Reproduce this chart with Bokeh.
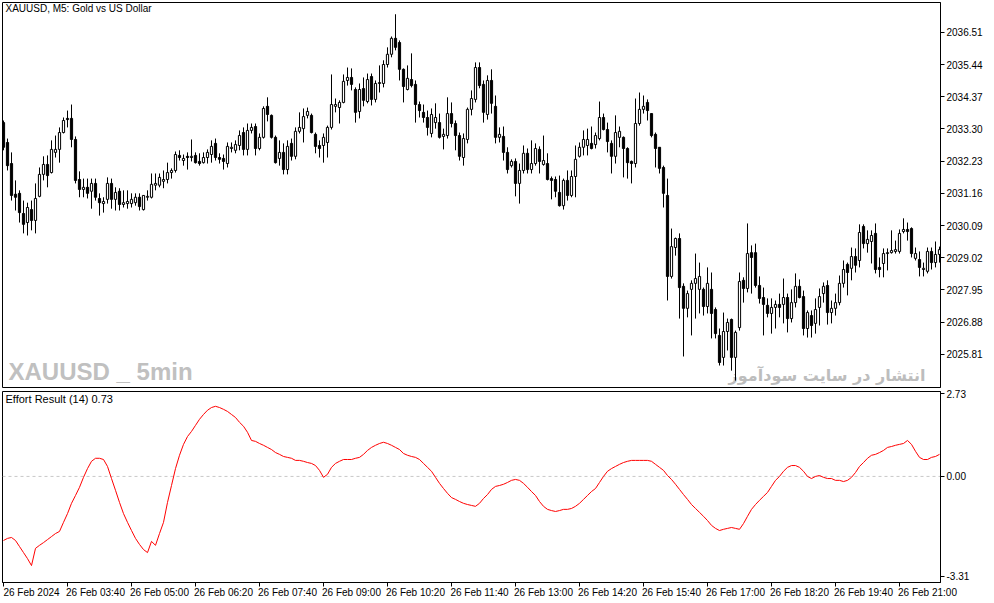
from bokeh.plotting import figure
from bokeh.layouts import column
from bokeh.models import Range1d, FixedTicker, PrintfTickFormatter, Span, ColumnDataSource, LinearAxis
from bokeh.core.properties import value
from bokeh.embed import file_html
from bokeh.resources import INLINE

opens = [
2033.51, 2032.85, 2032.15, 2031.13, 2031.16, 2030.49, 2030.19, 2030.62, 2030.26, 2031.06,
2031.79, 2032.12, 2031.85, 2032.52, 2032.62, 2033.18, 2033.65, 2033.65, 2032.95, 2031.62,
2031.29, 2031.36, 2031.23, 2031.49, 2030.99, 2030.82, 2030.96, 2031.49, 2030.96, 2031.23,
2030.79, 2030.82, 2030.82, 2030.85, 2031.03, 2030.62, 2031.03, 2031.03, 2031.43, 2031.43,
2031.56, 2031.62, 2031.85, 2031.92, 2032.42, 2032.25, 2032.39, 2032.35, 2032.42, 2032.22,
2032.18, 2032.35, 2032.45, 2032.82, 2032.35, 2032.32, 2032.15, 2032.65, 2032.59, 2032.75,
2033.18, 2032.62, 2033.25, 2033.38, 2032.65, 2033.02, 2034.05, 2033.75, 2033.02, 2032.32,
2032.52, 2031.95, 2032.82, 2032.39, 2033.22, 2033.31, 2033.75, 2033.75, 2033.12, 2032.75,
2032.75, 2032.85, 2033.35, 2034.05, 2034.01, 2034.18, 2034.91, 2035.01, 2034.61, 2033.88,
2034.64, 2034.21, 2035.04, 2034.28, 2034.81, 2034.81, 2035.44, 2035.78, 2036.31, 2036.17,
2035.28, 2034.61, 2034.94, 2034.78, 2034.11, 2033.85, 2033.68, 2033.15, 2033.51, 2033.51,
2033.05, 2033.08, 2033.81, 2033.48, 2033.08, 2032.35, 2032.95, 2033.95, 2034.28, 2035.34,
2034.78, 2033.78, 2034.91, 2034.05, 2033.02, 2033.05, 2032.52, 2032.08, 2032.22, 2031.49,
2031.92, 2032.49, 2031.95, 2032.15, 2032.62, 2032.12, 2032.15, 2031.65, 2031.62, 2031.19,
2030.75, 2031.59, 2031.09, 2031.72, 2032.39, 2032.69, 2032.75, 2032.82, 2032.78, 2032.98,
2033.68, 2033.28, 2032.82, 2032.39, 2033.02, 2033.02, 2032.65, 2032.22, 2032.15, 2033.48,
2033.95, 2034.18, 2033.81, 2033.12, 2032.69, 2032.02, 2031.09, 2028.40, 2029.36, 2029.66,
2028.07, 2027.34, 2027.97, 2028.17, 2027.97, 2027.97, 2027.40, 2027.97, 2027.30, 2026.44,
2025.71, 2026.57, 2026.97, 2025.71, 2026.70, 2028.27, 2028.00, 2029.19, 2029.19, 2028.10,
2027.70, 2027.44, 2027.17, 2027.37, 2027.47, 2027.47, 2027.70, 2027.00, 2027.53, 2028.07,
2027.73, 2026.67, 2027.10, 2026.84, 2027.37, 2027.83, 2028.10, 2027.20, 2027.34, 2027.53,
2028.17, 2028.80, 2028.67, 2029.06, 2028.93, 2030.06, 2029.49, 2029.56, 2029.83, 2028.70,
2028.83, 2029.16, 2029.19, 2029.23, 2029.23, 2029.89, 2029.96, 2029.99, 2029.00, 2028.96,
2028.63, 2028.57, 2029.23, 2028.86, 2029.13]

highs = [
2033.58, 2032.98, 2032.52, 2031.59, 2031.26, 2030.92, 2030.85, 2030.92, 2031.49, 2032.02,
2032.39, 2032.42, 2032.92, 2033.08, 2033.35, 2033.68, 2033.91, 2034.11, 2033.05, 2031.89,
2031.65, 2031.65, 2031.65, 2031.65, 2031.16, 2031.03, 2031.69, 2031.65, 2031.36, 2031.33,
2031.26, 2031.26, 2031.16, 2031.16, 2031.16, 2031.09, 2031.26, 2031.82, 2031.82, 2031.82,
2031.92, 2032.18, 2031.99, 2032.55, 2032.59, 2032.45, 2032.52, 2032.95, 2032.52, 2032.49,
2032.52, 2032.62, 2032.92, 2032.98, 2032.49, 2032.45, 2032.85, 2032.85, 2032.92, 2033.25,
2033.35, 2033.48, 2033.48, 2033.48, 2033.15, 2034.05, 2034.35, 2033.78, 2033.08, 2032.92,
2032.82, 2032.92, 2032.98, 2033.35, 2033.85, 2033.98, 2034.01, 2033.81, 2033.18, 2032.92,
2033.15, 2033.41, 2035.11, 2034.31, 2034.25, 2035.11, 2035.34, 2035.31, 2034.68, 2034.81,
2035.01, 2035.14, 2035.14, 2034.91, 2035.41, 2035.58, 2036.01, 2036.37, 2037.11, 2036.24,
2035.31, 2035.41, 2035.81, 2034.91, 2034.21, 2034.11, 2033.91, 2033.98, 2034.15, 2033.81,
2033.31, 2034.35, 2034.18, 2033.58, 2033.18, 2033.15, 2034.01, 2034.58, 2035.51, 2035.51,
2034.91, 2035.08, 2035.28, 2034.41, 2033.35, 2033.38, 2032.69, 2032.29, 2032.32, 2032.15,
2032.75, 2032.65, 2032.92, 2032.82, 2032.72, 2033.08, 2032.49, 2031.72, 2031.72, 2031.75,
2031.65, 2031.92, 2031.92, 2032.75, 2032.85, 2033.25, 2033.31, 2033.38, 2033.18, 2034.21,
2033.81, 2033.51, 2032.92, 2033.75, 2033.38, 2033.05, 2032.69, 2032.25, 2034.31, 2034.51,
2034.41, 2034.28, 2033.81, 2033.18, 2032.69, 2032.08, 2031.65, 2029.99, 2029.69, 2029.83,
2028.17, 2027.93, 2028.27, 2029.16, 2028.86, 2028.03, 2028.70, 2028.53, 2027.37, 2026.67,
2027.20, 2027.00, 2027.00, 2026.60, 2028.53, 2028.37, 2030.16, 2029.43, 2029.49, 2028.40,
2028.03, 2027.67, 2027.67, 2027.60, 2027.83, 2028.33, 2027.83, 2027.97, 2028.50, 2028.30,
2027.93, 2027.27, 2027.27, 2027.67, 2028.00, 2028.20, 2028.27, 2027.60, 2027.83, 2028.43,
2028.93, 2028.86, 2029.36, 2029.33, 2030.13, 2030.13, 2029.93, 2029.93, 2030.16, 2029.03,
2029.33, 2029.33, 2029.93, 2029.59, 2029.96, 2030.33, 2030.19, 2030.03, 2029.36, 2029.23,
2028.86, 2029.36, 2029.36, 2029.56, 2029.39]

lows = [
2032.59, 2031.92, 2030.92, 2030.59, 2030.19, 2029.83, 2029.76, 2029.93, 2029.83, 2031.03,
2031.59, 2031.36, 2031.82, 2032.35, 2032.18, 2033.15, 2033.35, 2032.69, 2031.49, 2031.03,
2031.03, 2030.99, 2030.65, 2030.92, 2030.42, 2030.52, 2030.82, 2030.65, 2030.59, 2030.59,
2030.69, 2030.65, 2030.69, 2030.75, 2030.59, 2030.59, 2030.92, 2030.99, 2031.26, 2031.36,
2031.33, 2031.49, 2031.65, 2031.85, 2032.25, 2032.08, 2031.95, 2032.22, 2032.15, 2032.08,
2032.15, 2032.15, 2032.18, 2032.25, 2032.15, 2031.95, 2032.02, 2032.52, 2032.49, 2032.59,
2032.42, 2032.42, 2033.15, 2032.42, 2032.59, 2032.98, 2033.55, 2032.98, 2032.15, 2032.08,
2031.79, 2031.79, 2032.25, 2032.29, 2033.15, 2032.85, 2033.65, 2033.15, 2032.49, 2032.35,
2032.18, 2032.35, 2033.28, 2033.85, 2033.48, 2034.15, 2034.74, 2034.58, 2033.51, 2033.65,
2034.05, 2034.15, 2034.08, 2034.18, 2034.51, 2034.68, 2035.34, 2035.68, 2035.91, 2034.91,
2034.18, 2034.58, 2034.68, 2033.51, 2033.68, 2033.51, 2033.08, 2033.02, 2033.31, 2032.98,
2032.62, 2032.98, 2033.35, 2032.59, 2032.25, 2032.08, 2032.82, 2033.75, 2034.18, 2034.65,
2033.51, 2033.61, 2033.81, 2032.82, 2032.85, 2032.25, 2031.82, 2032.02, 2031.06, 2030.82,
2031.82, 2031.82, 2031.82, 2032.08, 2031.82, 2032.08, 2031.59, 2030.96, 2031.03, 2030.72,
2030.62, 2030.92, 2031.03, 2031.03, 2032.35, 2032.42, 2032.42, 2032.62, 2032.65, 2032.92,
2033.25, 2032.52, 2031.82, 2032.15, 2032.69, 2031.69, 2031.65, 2031.49, 2032.02, 2033.41,
2033.81, 2033.58, 2033.02, 2032.02, 2031.82, 2030.69, 2027.60, 2028.33, 2029.09, 2027.00,
2025.74, 2027.04, 2026.44, 2027.00, 2027.17, 2027.10, 2027.17, 2026.34, 2026.34, 2025.44,
2025.44, 2025.94, 2025.27, 2024.94, 2026.60, 2027.53, 2027.87, 2027.83, 2028.03, 2027.50,
2026.44, 2027.04, 2026.50, 2026.67, 2027.04, 2026.84, 2026.54, 2026.87, 2027.37, 2027.67,
2026.44, 2026.37, 2026.37, 2026.50, 2026.77, 2027.53, 2026.80, 2026.84, 2027.10, 2027.44,
2028.03, 2027.77, 2028.27, 2028.53, 2028.70, 2029.33, 2029.19, 2028.83, 2028.50, 2028.37,
2028.37, 2028.60, 2029.16, 2029.16, 2029.16, 2029.83, 2029.59, 2029.03, 2028.93, 2028.40,
2028.40, 2028.50, 2028.63, 2028.70, 2028.86]

closes = [
2032.69, 2032.08, 2031.09, 2031.03, 2030.52, 2030.13, 2030.69, 2030.26, 2030.99, 2031.79,
2032.12, 2031.75, 2032.62, 2032.62, 2033.18, 2033.58, 2033.61, 2032.95, 2031.59, 2031.29,
2031.36, 2031.16, 2031.49, 2031.03, 2030.85, 2030.89, 2031.49, 2030.96, 2031.19, 2030.79,
2030.85, 2030.89, 2030.96, 2031.03, 2030.72, 2031.09, 2031.06, 2031.46, 2031.49, 2031.69,
2031.62, 2031.85, 2031.92, 2032.45, 2032.35, 2032.32, 2032.35, 2032.39, 2032.18, 2032.15,
2032.35, 2032.52, 2032.72, 2032.35, 2032.29, 2032.22, 2032.72, 2032.69, 2032.78, 2033.08,
2032.62, 2033.25, 2033.35, 2032.65, 2033.02, 2033.98, 2033.78, 2033.02, 2032.18, 2032.52,
2031.95, 2032.72, 2032.39, 2033.22, 2033.35, 2033.71, 2033.88, 2033.18, 2032.72, 2032.65,
2033.02, 2033.35, 2034.11, 2034.11, 2034.18, 2034.88, 2035.01, 2034.78, 2033.85, 2034.61,
2034.25, 2034.94, 2034.28, 2034.81, 2034.84, 2035.44, 2035.78, 2036.31, 2036.01, 2035.28,
2034.71, 2034.98, 2034.74, 2034.11, 2033.91, 2033.68, 2033.35, 2033.78, 2033.68, 2033.02,
2033.12, 2033.81, 2033.48, 2033.08, 2032.39, 2032.98, 2033.95, 2034.31, 2035.34, 2034.74,
2033.85, 2034.91, 2034.15, 2033.02, 2033.12, 2032.52, 2031.95, 2032.22, 2031.49, 2031.92,
2032.49, 2031.95, 2032.15, 2032.65, 2032.22, 2032.25, 2031.62, 2031.59, 2031.23, 2030.75,
2031.59, 2031.09, 2031.72, 2032.29, 2032.69, 2032.95, 2032.95, 2032.65, 2033.08, 2033.68,
2033.28, 2032.88, 2032.39, 2033.18, 2033.22, 2032.65, 2032.18, 2032.15, 2033.48, 2033.95,
2034.05, 2033.91, 2033.08, 2032.65, 2031.99, 2031.16, 2028.40, 2029.39, 2029.66, 2028.03,
2027.34, 2027.83, 2028.17, 2028.33, 2028.40, 2027.40, 2028.17, 2027.17, 2026.50, 2025.54,
2026.57, 2026.87, 2025.71, 2026.54, 2028.23, 2028.00, 2029.16, 2029.03, 2028.10, 2027.67,
2027.47, 2027.17, 2027.37, 2027.47, 2027.37, 2027.70, 2027.00, 2027.53, 2028.07, 2027.70,
2026.67, 2027.20, 2026.77, 2027.30, 2027.73, 2028.07, 2027.20, 2027.34, 2027.53, 2028.17,
2028.63, 2028.53, 2029.06, 2028.77, 2029.86, 2029.49, 2029.63, 2029.76, 2028.63, 2028.63,
2029.16, 2029.19, 2029.26, 2029.29, 2029.83, 2029.96, 2029.89, 2029.16, 2029.16, 2028.70,
2028.67, 2029.23, 2028.86, 2029.13, 2029.29]

effort = [
-2.12, -2.05, -2.02, -2.12, -2.32, -2.52, -2.72, -2.95, -2.38, -2.28,
-2.19, -2.09, -1.99, -1.89, -1.82, -1.52, -1.23, -0.89, -0.63, -0.36,
-0.03, 0.26, 0.50, 0.60, 0.60, 0.56, 0.33, -0.07, -0.46, -0.86,
-1.23, -1.52, -1.79, -2.05, -2.25, -2.42, -2.52, -2.15, -2.28, -1.89,
-1.52, -0.86, -0.30, 0.26, 0.70, 1.06, 1.32, 1.49, 1.69, 1.89,
2.05, 2.19, 2.28, 2.32, 2.28, 2.22, 2.15, 2.05, 1.95, 1.79,
1.66, 1.46, 1.19, 1.16, 1.09, 1.03, 0.96, 0.89, 0.79, 0.73,
0.66, 0.63, 0.60, 0.53, 0.53, 0.50, 0.46, 0.43, 0.36, 0.20,
-0.03, 0.07, 0.30, 0.43, 0.50, 0.56, 0.56, 0.56, 0.60, 0.63,
0.73, 0.86, 0.96, 1.03, 1.09, 1.13, 1.09, 1.03, 0.96, 0.89,
0.76, 0.70, 0.66, 0.63, 0.56, 0.43, 0.30, 0.17, -0.03, -0.23,
-0.40, -0.56, -0.70, -0.76, -0.83, -0.89, -0.93, -0.96, -0.99, -0.89,
-0.73, -0.60, -0.43, -0.33, -0.30, -0.26, -0.20, -0.13, -0.10, -0.13,
-0.23, -0.36, -0.50, -0.63, -0.83, -0.99, -1.09, -1.13, -1.16, -1.13,
-1.09, -1.09, -1.06, -0.99, -0.89, -0.76, -0.63, -0.50, -0.40, -0.20,
0.00, 0.17, 0.26, 0.33, 0.40, 0.46, 0.50, 0.53, 0.53, 0.53,
0.53, 0.53, 0.50, 0.40, 0.30, 0.20, 0.03, -0.10, -0.26, -0.43,
-0.60, -0.76, -0.93, -1.06, -1.19, -1.32, -1.46, -1.62, -1.72, -1.79,
-1.75, -1.72, -1.69, -1.72, -1.75, -1.56, -1.32, -1.09, -0.93, -0.79,
-0.66, -0.53, -0.33, -0.13, 0.00, 0.17, 0.30, 0.36, 0.36, 0.30,
0.17, 0.00, -0.07, 0.00, 0.03, -0.03, -0.07, -0.07, -0.13, -0.13,
-0.17, -0.13, -0.03, 0.13, 0.33, 0.46, 0.60, 0.70, 0.73, 0.79,
0.86, 0.96, 0.99, 1.03, 1.06, 1.09, 1.19, 1.06, 0.83, 0.63,
0.56, 0.56, 0.63, 0.66, 0.73]

price_ticks = [2025.81, 2026.88, 2027.95, 2029.02, 2030.09, 2031.16,
               2032.23, 2033.30, 2034.37, 2035.44, 2036.51]
effort_ticks = [-3.31, 0.00, 2.73]
time_tick_bars = [0, 16, 32, 48, 64, 80, 96, 112, 128, 144, 160, 176, 192, 208, 224]
time_labels = ["26 Feb 2024", "26 Feb 03:40", "26 Feb 05:00", "26 Feb 06:20",
               "26 Feb 07:40", "26 Feb 09:00", "26 Feb 10:20", "26 Feb 11:40",
               "26 Feb 13:00", "26 Feb 14:20", "26 Feb 15:40", "26 Feb 17:00",
               "26 Feb 18:20", "26 Feb 19:40", "26 Feb 21:00"]

chart_title = "XAUUSD, M5:  Gold vs US Dollar"
indicator_title = "Effort Result (14) 0.73"
watermark_left = "XAUUSD _ 5min"
watermark_right = "انتشار در سایت سودآموز"

FONT = "Liberation Sans"
n = len(closes)
idx = list(range(n))
tops = [max(o, c) for o, c in zip(opens, closes)]
bots = [min(o, c) for o, c in zip(opens, closes)]
hi = [max(h, t) for h, t in zip(highs, tops)]
lo = [min(l, b) for l, b in zip(lows, bots)]
fills = ["white" if c >= o else "black" for o, c in zip(opens, closes)]
src = ColumnDataSource(dict(x=idx, top=tops, bottom=bots, high=hi, low=lo, fill=fills))

xr = Range1d(-0.25, n - 0.75)


def style(p):
    p.grid.visible = False
    p.outline_line_color = "black"
    p.outline_line_width = 1
    p.background_fill_color = "white"
    p.border_fill_color = "white"
    for ax in p.yaxis:
        ax.axis_line_color = "black"
        ax.major_tick_line_color = "black"
        ax.major_tick_out = 4
        ax.major_tick_in = 0
        ax.minor_tick_line_color = None
        ax.major_label_text_font = FONT
        ax.major_label_text_font_size = "10px"
        ax.major_label_text_color = "black"
        ax.major_label_standoff = 2
        ax.formatter = PrintfTickFormatter(format="%.2f")


p1 = figure(frame_width=938, frame_height=385, x_range=xr,
            y_range=Range1d(2024.71, 2037.50), output_backend="svg",
            toolbar_location=None, x_axis_location=None, y_axis_location="right",
            min_border_left=2, min_border_right=54, min_border_top=2, min_border_bottom=1)
style(p1)
p1.yaxis.ticker = FixedTicker(ticks=price_ticks)

p1.text(x=[1.25], y=[2024.80], text=[watermark_left], text_color="#C0C0C0",
        text_font=value(FONT), text_font_style="bold",
        text_font_size="24px", text_baseline="bottom", text_align="left")
p1.text(x=[230.5], y=[2025.12], text=[watermark_right], text_color="#BDBDBD",
        text_font=value("DejaVu Sans"), text_font_style="bold", text_font_size="16px",
        text_baseline="alphabetic", text_align="right")
p1.text(x=[0.5], y=[2037.47], text=[chart_title], text_color="black",
        text_font=value(FONT), text_font_size="10px", text_baseline="top", text_align="left")

p1.segment(x0="x", y0="low", x1="x", y1="high", source=src, line_color="black", line_width=1)
p1.vbar(x="x", width=0.55, top="top", bottom="bottom", source=src,
        fill_color="fill", line_color="black", line_width=1)

p2 = figure(frame_width=938, frame_height=191, x_range=xr,
            y_range=Range1d(-3.51, 2.81), output_backend="svg",
            toolbar_location=None, x_axis_location=None, y_axis_location="right",
            min_border_left=2, min_border_right=54, min_border_top=3, min_border_bottom=0)
style(p2)
p2.yaxis.ticker = FixedTicker(ticks=effort_ticks)

tick_axis = LinearAxis(ticker=FixedTicker(ticks=time_tick_bars),
                       axis_line_color="black", major_tick_line_color="black",
                       major_tick_out=4, major_tick_in=0, minor_tick_line_color=None,
                       major_label_text_font_size="0px", major_label_text_color=None,
                       major_label_standoff=0)
label_pos = [b + 7 for b in time_tick_bars]
label_axis = LinearAxis(ticker=FixedTicker(ticks=label_pos),
                        major_label_overrides={b: s for b, s in zip(label_pos, time_labels)},
                        axis_line_color=None, major_tick_line_color=None,
                        major_tick_out=0, major_tick_in=0, minor_tick_line_color=None,
                        major_label_text_font=FONT, major_label_text_font_size="10px",
                        major_label_text_color="black", major_label_standoff=0)
p2.add_layout(tick_axis, "below")
p2.add_layout(label_axis, "below")

p2.add_layout(Span(location=0, dimension="width", line_color="#C8C8C8",
                   line_dash="3 3", line_width=1, level="underlay"))
p2.line(x=idx, y=effort, line_color="#FF0000", line_width=1)
p2.text(x=[0.5], y=[2.76], text=[indicator_title], text_color="black",
        text_font=value(FONT), text_font_size="11px", text_baseline="top", text_align="left")

layout = column(p1, p2, spacing=0)
open("out.html", "w").write(file_html(layout, INLINE))
